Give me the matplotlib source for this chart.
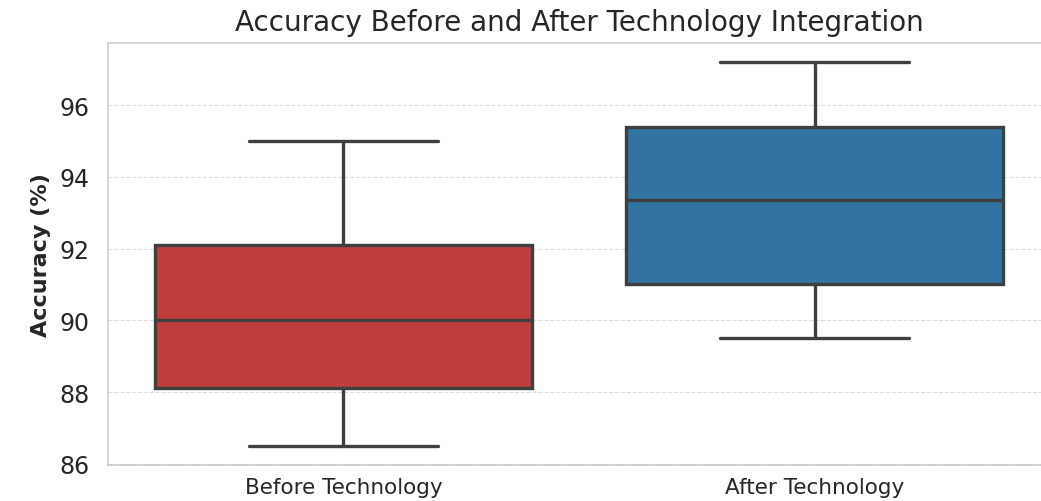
import matplotlib
matplotlib.use("Agg")
import matplotlib.pyplot as plt
import seaborn as sns

# values
groups = ["Before Technology", "After Technology"]
whisker_low = [86.5, 89.5]
q1 = [88.1, 91.0]
median = [90.0, 93.35]
q3 = [92.1, 95.4]
whisker_high = [95.0, 97.2]
box_colors = ["#c03d3e", "#3274a1"]

sns.set_style("whitegrid")
plt.rcParams["font.family"] = ["DejaVu Sans"]

stats = [
    {"label": g, "whislo": lo, "q1": a, "med": m, "q3": b, "whishi": hi, "fliers": []}
    for g, lo, a, m, b, hi in zip(groups, whisker_low, q1, median, q3, whisker_high)
]

fig = plt.figure(figsize=(10.41, 5.02), dpi=100)
# the reference is cropped on the right: the axes run past the image edge
ax = fig.add_axes([0.1037, 0.0717, 0.905, 0.8407])
line_kw = dict(color="#3f3f3f", linewidth=2.4)
bp = ax.bxp(stats, positions=range(len(groups)), widths=0.8, patch_artist=True,
            showfliers=False, boxprops=dict(edgecolor="#3f3f3f", linewidth=2.4),
            medianprops=line_kw, whiskerprops=line_kw, capprops=line_kw,
            capwidths=0.4)
for patch, c in zip(bp["boxes"], box_colors):
    patch.set_facecolor(c)

ax.set_xlim(-0.5, 1.5)
ax.set_yticks([86, 88, 90, 92, 94, 96])
ax.grid(axis="x", visible=False)
ax.grid(axis="y", linestyle="--", color="#dddddd", linewidth=0.8)
for s in ax.spines.values():
    s.set_color("#cccccc")
    s.set_linewidth(1.2)
ax.spines["right"].set_visible(False)

ax.tick_params(axis="y", labelsize=17, colors="#262626", pad=10)
ax.tick_params(axis="x", labelsize=15.5, colors="#262626", pad=5)
ax.set_ylabel("Accuracy (%)", fontsize=16, fontweight="bold", color="#262626", labelpad=6)
ax.set_title("Accuracy Before and After Technology Integration", fontsize=20,
             color="#262626", pad=9)

fig.savefig("out.png", dpi=100)
